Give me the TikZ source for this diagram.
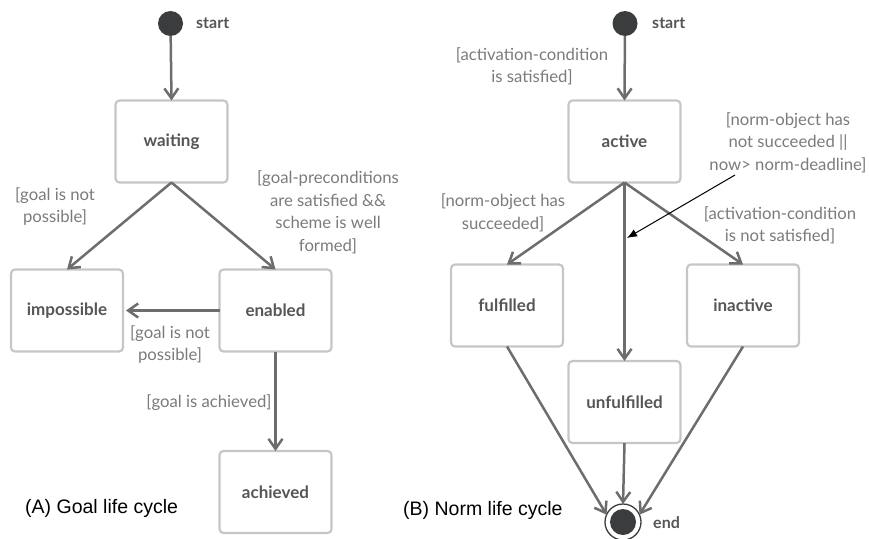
\documentclass[tikz,border=0pt]{standalone}
\usepackage{fontspec}
\setmainfont{Lato}
\newfontfamily\captionfont{Liberation Sans}
\usetikzlibrary{arrows.meta}
\definecolor{boxline}{HTML}{C4C7C9}
\definecolor{flow}{HTML}{6C6D6E}
\definecolor{guard}{HTML}{7A7B7C}
\definecolor{statetxt}{HTML}{555657}
\definecolor{dot}{HTML}{3B3C3E}
\tikzset{
  statebox/.style={draw=boxline, line width=2.2pt, rounded corners=4pt, fill=white,
    minimum width=112pt, minimum height=82pt, inner sep=0pt, outer sep=0pt,
    font=\fontsize{17}{20}\selectfont\bfseries, text=statetxt},
  initdot/.style={circle, fill=dot, minimum size=25pt, inner sep=0pt, outer sep=0pt},
  finaldot/.style={circle, draw=dot, line width=1.3pt, fill=white, minimum size=36pt,
    inner sep=0pt, outer sep=0pt,
    path picture={\fill[dot] (path picture bounding box.center) circle (13pt);}},
  pointlabel/.style={font=\fontsize{16}{20}\selectfont\bfseries, text=statetxt,
    anchor=west, inner sep=0pt},
  guardlabel/.style={font=\fontsize{16.7}{22.5}\selectfont, text=guard, align=center,
    inner sep=0pt},
  flowarrow/.style={draw=flow, line width=2.5pt, -{Straight Barb[length=10pt,width=14pt]}},
  notearrow/.style={draw=black, line width=1pt, -{Latex[length=10pt,width=8pt]}},
  panelcaption/.style={font=\captionfont\fontsize{19.5}{22}\selectfont, text=black,
    anchor=west, inner sep=0pt},
}
\begin{document}
\begin{tikzpicture}[x=1pt, y=-1pt]
\useasboundingbox (0,0) rectangle (869,538);

% ---- Goal life cycle ----
\node[initdot] (gstart) at (170.5,23.5) {};
\node[pointlabel] (gstartlbl) at (196,23.5) {start};
\node[statebox] (waiting) at (171.5,141.5) {waiting};
\node[statebox] (impossible) at (67,310.5) {impossible};
\node[statebox] (enabled) at (275.5,310.5) {enabled};
\node[statebox] (achieved) at (275.5,492) {achieved};

\draw[flowarrow] (gstart) -- (waiting.north);
\draw[flowarrow] (waiting.south) -- (impossible.north);
\draw[flowarrow] (waiting.south) -- (enabled.north);
\draw[flowarrow, shorten >=3pt] (enabled.west) -- (impossible.east);
\draw[flowarrow] (enabled.south) -- (achieved.north);

\node[guardlabel] (g1) at (55,206.5) {[goal is not\\possible]};
\node[guardlabel] (g2) at (328,212.5) {[goal-preconditions\\are satisfied \&\&\\scheme is well\\formed]};
\node[guardlabel] (g3) at (170,344.5) {[goal is not\\possible]};
\node[guardlabel] (g4) at (209,403) {[goal is achieved]};

\node[panelcaption] (capA) at (25,508) {(A) Goal life cycle};

% ---- Norm life cycle ----
\node[initdot] (nstart) at (625,23.5) {};
\node[pointlabel] (nstartlbl) at (652,23.5) {start};
\node[statebox] (active) at (624.5,141.5) {active};
\node[statebox] (fulfilled) at (507,305.5) {fulfilled};
\node[statebox] (inactive) at (743,305.5) {inactive};
\node[statebox] (unfulfilled) at (624.5,402) {unfulfilled};
\node[finaldot] (nend) at (623,522) {};
\node[pointlabel] (nendlbl) at (653,523) {end};

\draw[flowarrow] (nstart) -- (active.north);
\draw[flowarrow] (active.south) -- (fulfilled.north);
\draw[flowarrow] (active.south) -- (inactive.north);
\draw[flowarrow] (active.south) -- (unfulfilled.north);
\draw[flowarrow] (fulfilled.south) -- (nend.156);
\draw[flowarrow] (inactive.south) -- (nend.24);
\draw[flowarrow] (unfulfilled.south) -- (nend.north);

\node[guardlabel] (n1) at (532,66.5) {[activation-condition\\is satisfied]};
\node[guardlabel] (n2) at (788,142.5) {[norm-object has\\not succeeded ||\\now> norm-deadline]};
\node[guardlabel] (n3) at (503,213) {[norm-object has\\succeeded]};
\node[guardlabel] (n4) at (780,225.5) {[activation-condition\\is not satisfied]};

\coordinate (notefrom) at (735,175);
\coordinate (noteto) at (627,238);
\draw[notearrow] (notefrom) -- (noteto);

\node[panelcaption] (capB) at (403,510) {(B) Norm life cycle};
\end{tikzpicture}
\end{document}
